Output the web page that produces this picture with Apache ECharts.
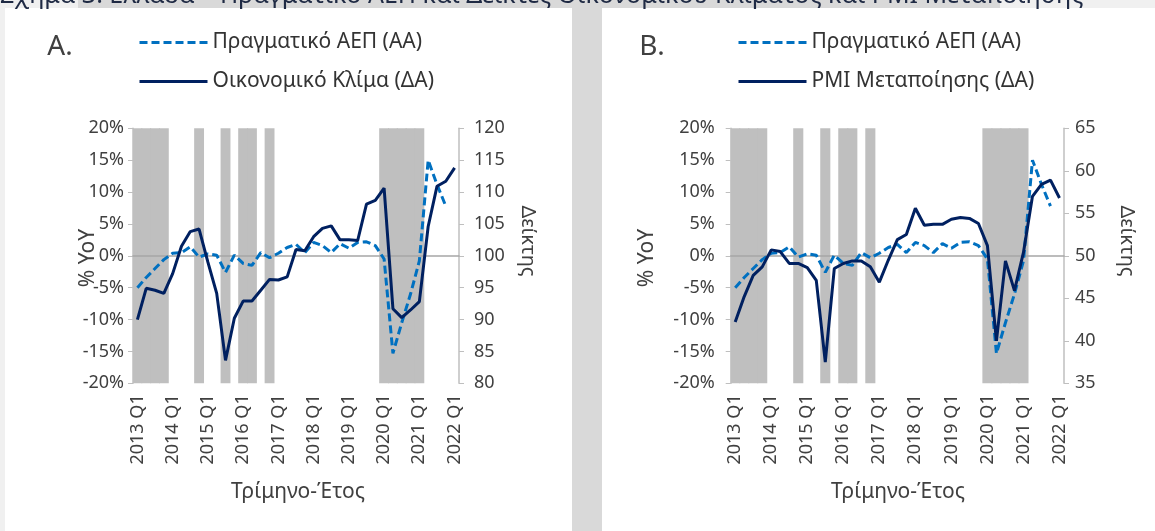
<!DOCTYPE html>
<html>
<head>
<meta charset="utf-8">
<script src="https://cdn.jsdelivr.net/npm/echarts@6/dist/echarts.min.js"></script>
<style>
  body { margin: 0; background: #f0f0f0; width: 1155px; height: 531px; overflow: hidden; position: relative; }
  .blk { position: absolute; }
</style>
</head>
<body>
<div class="blk" style="left:78px;top:0;width:922px;height:8px;background:#d9d9d9"></div>
<div class="blk" style="left:5px;top:8px;width:567px;height:523px;background:#fff"></div>
<div class="blk" style="left:572px;top:8px;width:30px;height:523px;background:#d9d9d9"></div>
<div class="blk" style="left:602px;top:8px;width:553px;height:523px;background:#fff"></div>
<div id="chart" class="blk" style="left:0;top:0;width:1155px;height:531px"></div>
<script>
// quarters 2013 Q1 .. 2022 Q1
const categories = [
  '2013 Q1', '2013 Q2', '2013 Q3', '2013 Q4', '2014 Q1', '2014 Q2', '2014 Q3', '2014 Q4',
  '2015 Q1', '2015 Q2', '2015 Q3', '2015 Q4', '2016 Q1', '2016 Q2', '2016 Q3', '2016 Q4',
  '2017 Q1', '2017 Q2', '2017 Q3', '2017 Q4', '2018 Q1', '2018 Q2', '2018 Q3', '2018 Q4',
  '2019 Q1', '2019 Q2', '2019 Q3', '2019 Q4', '2020 Q1', '2020 Q2', '2020 Q3', '2020 Q4',
  '2021 Q1', '2021 Q2', '2021 Q3', '2021 Q4', '2022 Q1'
];

// real GDP, % yoy (left axis)
const gdp = [
  -5.0, -3.4, -2.0, -0.6, 0.4, 0.5, 1.4, -0.2,
  0.3, 0.1, -2.6, 0.1, -1.2, -1.5, 0.5, -0.3,
  0.4, 1.3, 1.8, 0.5, 2.1, 1.6, 0.5, 1.9,
  1.2, 2.1, 2.2, 1.6, -0.5, -15.3, -10.5, -6.0,
  -0.8, 15.0, 11.2, 7.8, null
];

// economic sentiment (right axis, panel A)
const climate = [
  90.0, 94.9, 94.6, 94.1, 97.2, 101.5, 103.8, 104.2,
  99.0, 94.1, 83.6, 90.2, 92.9, 92.9, 94.6, 96.3,
  96.2, 96.7, 101.0, 100.8, 103.0, 104.3, 104.7, 102.5,
  102.5, 102.4, 108.1, 108.7, 110.6, 91.7, 90.3, 91.5,
  92.8, 104.6, 110.9, 111.7, 113.8
];

// manufacturing PMI (right axis, panel B)
const pmi = [
  42.2, 45.2, 47.7, 48.7, 50.7, 50.5, 49.1, 49.1,
  48.6, 47.1, 37.5, 48.5, 49.1, 49.4, 49.4, 48.7,
  46.9, 49.5, 51.9, 52.5, 55.6, 53.6, 53.7, 53.7,
  54.3, 54.5, 54.4, 53.8, 51.2, 40.0, 49.4, 45.9,
  50.4, 57.0, 58.4, 58.9, 56.8
];

// shaded quarters (1 = shaded)
const shade = [
  1, 1, 1, 1, 0, 0, 0, 1,
  0, 0, 1, 0, 1, 1, 0, 1,
  0, 0, 0, 0, 0, 0, 0, 0,
  0, 0, 0, 0, 1, 1, 1, 1,
  1, 0, 0, 0, 0
];

const pctRange = [-20, 20];
const climateRange = [80, 120];
const pmiRange = [35, 65];

const FONT = '"Noto Sans", sans-serif';
const TXT = '#404040';
const AXIS = '#bfbfbf';
const GDP_NAME = 'Πραγματικό ΑΕΠ (ΑΑ)';

const chart = echarts.init(document.getElementById('chart'));

function labelAxis(grid) {
  return {
    gridIndex: grid, type: 'category', data: categories, boundaryGap: true, position: 'bottom',
    axisLine: { show: false }, axisTick: { show: false },
    axisLabel: { interval: 3, rotate: 90, margin: 11, fontSize: 18, color: TXT, fontFamily: FONT }
  };
}
function zeroAxis(grid, yIdx) {
  return {
    gridIndex: grid, type: 'category', data: categories, boundaryGap: true, position: 'bottom', z: 3,
    axisLine: { onZero: true, onZeroAxisIndex: yIdx, lineStyle: { color: '#a6a6a6', width: 1.5 } },
    axisTick: { interval: 3, length: 5, lineStyle: { color: '#a6a6a6' } },
    axisLabel: { show: false }
  };
}
function pctAxis(grid, margin) {
  return {
    gridIndex: grid, type: 'value', position: 'left', min: pctRange[0], max: pctRange[1], interval: 5,
    axisLine: { show: true, onZero: false, lineStyle: { color: AXIS, width: 1.5 } },
    axisTick: { show: true, length: 5, lineStyle: { color: AXIS } },
    splitLine: { show: false },
    axisLabel: { formatter: '{value}%', margin: margin, fontSize: 18, color: TXT, fontFamily: FONT }
  };
}
function idxAxis(grid, range, margin) {
  return {
    gridIndex: grid, type: 'value', position: 'right', min: range[0], max: range[1], interval: 5,
    axisLine: { show: true, onZero: false, lineStyle: { color: AXIS, width: 1.5 } },
    axisTick: { show: true, length: 5, lineStyle: { color: AXIS } },
    splitLine: { show: false },
    axisLabel: { margin: margin, fontSize: 18, color: TXT, fontFamily: FONT }
  };
}
function hiddenAxis(grid) {
  return { gridIndex: grid, type: 'value', min: 0, max: 1, show: false, splitLine: { show: false } };
}

function panelSeries(xIdx, yBase, name2, values2) {
  return [
    {
      // slightly wider than the band so neighbouring shaded quarters merge
      type: 'bar', xAxisIndex: xIdx, yAxisIndex: yBase + 2, data: shade, barWidth: '112%',
      itemStyle: { color: '#bfbfbf' },
      silent: true, z: 1, animation: false
    },
    {
      name: GDP_NAME, type: 'line', xAxisIndex: xIdx, yAxisIndex: yBase, data: gdp,
      symbol: 'none', z: 5, animation: false,
      itemStyle: { color: '#0070c0' },
      lineStyle: { color: '#0070c0', width: 3, type: [8, 4] }
    },
    {
      name: name2, type: 'line', xAxisIndex: xIdx, yAxisIndex: yBase + 1, data: values2,
      symbol: 'none', z: 6, animation: false,
      itemStyle: { color: '#002060' },
      lineStyle: { color: '#002060', width: 3 }
    }
  ];
}

function legendAt(left, names) {
  return {
    orient: 'vertical', left: left, top: 32, padding: 0, itemWidth: 68, itemHeight: 14, itemGap: 18,
    selectedMode: false, data: names,
    itemStyle: { opacity: 0 },
    lineStyle: { width: 3 },
    textStyle: { fontSize: 21, color: '#333', fontFamily: FONT }
  };
}

function txt(x, y, text, size, extra) {
  return Object.assign({
    type: 'text', x: x, y: y, silent: true,
    style: { text: text, fill: TXT, font: size + 'px ' + FONT, align: 'center', verticalAlign: 'middle' }
  }, extra || {});
}

const option = {
  animation: false,
  grid: [
    { left: 133, top: 128.3, width: 326, height: 255 },
    { left: 730.7, top: 128.3, width: 333.3, height: 255 }
  ],
  xAxis: [labelAxis(0), zeroAxis(0, 0), labelAxis(1), zeroAxis(1, 3)],
  yAxis: [
    pctAxis(0, 9), idxAxis(0, climateRange, 15), hiddenAxis(0),
    pctAxis(1, 16), idxAxis(1, pmiRange, 11), hiddenAxis(1)
  ],
  legend: [
    legendAt(138, [GDP_NAME, 'Οικονομικό Κλίμα (ΔΑ)']),
    legendAt(737, [GDP_NAME, 'PMI Μεταποίησης (ΔΑ)'])
  ],
  series: panelSeries(0, 0, 'Οικονομικό Κλίμα (ΔΑ)', climate)
    .concat(panelSeries(2, 3, 'PMI Μεταποίησης (ΔΑ)', pmi)),
  graphic: [
    {
      type: 'text', x: 0, y: 8, silent: true,
      style: {
        text: 'Σχήμα 3: Ελλάδα – Πραγματικό ΑΕΠ και Δείκτες Οικονομικού Κλίματος και PMI Μεταποίησης',
        fill: '#1f2a44', font: '25px ' + FONT, align: 'left', verticalAlign: 'bottom'
      }
    },
    txt(60, 47, 'A.', 28),
    txt(652, 47, 'B.', 28),
    txt(88, 258, '% YoY', 21, { rotation: Math.PI / 2 }),
    txt(528, 241, 'Δείκτης', 20, { rotation: -Math.PI / 2 }),
    txt(647, 258, '% YoY', 21, { rotation: Math.PI / 2 }),
    txt(1127, 241, 'Δείκτης', 20, { rotation: -Math.PI / 2 }),
    txt(298, 492, 'Τρίμηνο-Έτος', 21),
    txt(898, 492, 'Τρίμηνο-Έτος', 21)
  ]
};

chart.setOption(option);
</script>
</body>
</html>
